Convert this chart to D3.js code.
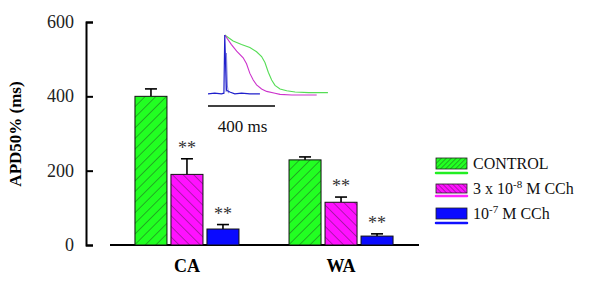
<!DOCTYPE html>
<html>
<head>
<meta charset="utf-8">
<script src="https://cdn.jsdelivr.net/npm/d3@7"></script>
<style>
  body { margin: 0; background: #fff; }
</style>
</head>
<body>
<div id="chart"></div>
<script>
// data
var groups = ["CA", "WA"];
var series = ["CONTROL", "3 x 10-8 M CCh", "10-7 M CCh"];
var means = [[400, 190, 43], [229, 115, 24]];
var errs = [[20, 42, 12], [8, 14, 6]];
var signif = [["", "**", "**"], ["", "**", "**"]];
var yTicks = [0, 200, 400, 600];

// inset action potential traces: [time ms, normalised voltage]
var traceControl = [[100, 1], [150, 0.9], [200, 0.84], [250, 0.79], [290, 0.72], [320, 0.64], [340, 0.54], [360, 0.38], [380, 0.25], [400, 0.16], [430, 0.1], [470, 0.07], [520, 0.05], [600, 0.04], [716, 0.04]];
var traceCCh3 = [[100, 1], [140, 0.84], [171, 0.73], [210, 0.62], [230, 0.52], [250, 0.36], [270, 0.25], [290, 0.17], [320, 0.1], [350, 0.06], [400, 0.03], [430, 0.01], [500, 0.0], [649, 0.0]];
var traceCCh7 = [[0, 0.02], [40, 0.03], [80, 0.02], [95, 0.03], [100, 1], [106, 0.4], [110, 0.08], [130, 0.05], [160, 0.02], [200, 0.03], [250, 0.02], [310, 0.02]];
var traceCCh7b = [[108, 0.05], [110, 0.7], [116, 0.15], [122, 0.03]];

var W = 600, H = 285;
var serif = "'Liberation Serif', 'Times New Roman', serif";
var svg = d3.select("#chart").append("svg")
    .attr("width", W).attr("height", H);

var fills = ["url(#hatchG)", "url(#hatchM)", "#0a0aff"];
var legFills = ["url(#hatchGs)", "url(#hatchMs)", "#0a0aff"];
var lineCols = ["#22ee22", "#ff22ff", "#1010ff"];

// hatch patterns
var defs = svg.append("defs");
function hatch(id, bg, line, gap, angle) {
  var p = defs.append("pattern")
      .attr("id", id)
      .attr("patternUnits", "userSpaceOnUse")
      .attr("width", gap).attr("height", gap)
      .attr("patternTransform", "rotate(" + angle + ")");
  p.append("rect").attr("width", gap).attr("height", gap).attr("fill", bg);
  p.append("line").attr("x1", 0).attr("y1", 0).attr("x2", 0).attr("y2", gap)
      .attr("stroke", line).attr("stroke-width", 0.9);
}
hatch("hatchG", "#22ff22", "#1f4a1f", 7.5, 45);
hatch("hatchM", "#ff11ff", "#4a1a4a", 7.5, -45);
hatch("hatchGs", "#22ff22", "#1f4a1f", 3.5, 45);
hatch("hatchMs", "#ff11ff", "#4a1a4a", 3.5, -45);

var y = d3.scaleLinear().domain([0, 600]).range([245, 22]);
var x0 = d3.scaleBand().domain(groups).range([110, 418])
    .paddingInner(0.325).paddingOuter(0.162);
var x1 = d3.scaleBand().domain(series).range([0, x0.bandwidth()])
    .paddingInner(0.111).paddingOuter(0);

// y axis
var yAxis = svg.append("g").attr("transform", "translate(86,0)")
    .call(d3.axisRight(y).tickValues(yTicks).tickSize(7).tickFormat(""));
yAxis.select(".domain").attr("stroke", "#000").attr("stroke-width", 2);
yAxis.selectAll(".tick line").attr("stroke", "#000").attr("stroke-width", 2);

svg.append("g").selectAll("text").data(yTicks).enter().append("text")
    .attr("x", 74).attr("y", function(d) { return y(d) + 6; })
    .attr("text-anchor", "end")
    .attr("font-family", serif)
    .attr("font-size", 18).attr("fill", "#222")
    .text(function(d) { return d; });

svg.append("text")
    .attr("transform", "translate(21," + 134 + ")rotate(-90)")
    .attr("text-anchor", "middle")
    .attr("font-family", serif)
    .attr("font-size", 17).attr("font-weight", "bold")
    .text("APD50% (ms)");

// baseline
svg.append("line")
    .attr("x1", 110).attr("x2", 419)
    .attr("y1", y(0)).attr("y2", y(0))
    .attr("stroke", "#000").attr("stroke-width", 2);

// bars
var g = svg.append("g").selectAll("g").data(groups).enter().append("g")
    .attr("transform", function(d) { return "translate(" + x0(d) + ",0)"; });

var cells = g.selectAll("g").data(function(d, gi) {
  return series.map(function(s, si) {
    return { s: s, si: si, v: means[gi][si], e: errs[gi][si], star: signif[gi][si] };
  });
}).enter().append("g");

cells.append("line")
    .attr("x1", function(d) { return x1(d.s) + x1.bandwidth() / 2; })
    .attr("x2", function(d) { return x1(d.s) + x1.bandwidth() / 2; })
    .attr("y1", function(d) { return y(d.v); })
    .attr("y2", function(d) { return y(d.v + d.e); })
    .attr("stroke", "#000").attr("stroke-width", 1.6);
cells.append("line")
    .attr("x1", function(d) { return x1(d.s) + x1.bandwidth() / 2 - 6; })
    .attr("x2", function(d) { return x1(d.s) + x1.bandwidth() / 2 + 6; })
    .attr("y1", function(d) { return y(d.v + d.e); })
    .attr("y2", function(d) { return y(d.v + d.e); })
    .attr("stroke", "#000").attr("stroke-width", 1.6);

cells.append("rect")
    .attr("x", function(d) { return x1(d.s); })
    .attr("width", x1.bandwidth())
    .attr("y", function(d) { return y(d.v); })
    .attr("height", function(d) { return y(0) - y(d.v); })
    .attr("fill", function(d) { return fills[d.si]; })
    .attr("stroke", "#111").attr("stroke-width", 1);

cells.append("text")
    .attr("x", function(d) { return x1(d.s) + x1.bandwidth() / 2; })
    .attr("y", function(d) { return y(d.v + d.e) - 5; })
    .attr("text-anchor", "middle")
    .attr("font-family", serif)
    .attr("font-size", 18).attr("fill", "#333")
    .text(function(d) { return d.star; });

// group labels
svg.append("g").selectAll("text").data(groups).enter().append("text")
    .attr("x", function(d) { return x0(d) + x0.bandwidth() / 2; })
    .attr("y", 272)
    .attr("text-anchor", "middle")
    .attr("font-family", serif)
    .attr("font-size", 18).attr("font-weight", "bold")
    .text(function(d) { return d; });

// inset traces
var tx = d3.scaleLinear().domain([0, 400]).range([208, 275]);
var ty = d3.scaleLinear().domain([0, 1]).range([95, 35]);
var line = d3.line()
    .x(function(d) { return tx(d[0]); })
    .y(function(d) { return ty(d[1]); });

var inset = svg.append("g").attr("fill", "none");
inset.append("path").datum(traceControl).attr("d", line)
    .attr("stroke", "#55dd55").attr("stroke-width", 1.1);
inset.append("path").datum(traceCCh3).attr("d", line)
    .attr("stroke", "#cc33cc").attr("stroke-width", 1.1);
inset.append("path").datum(traceCCh7b).attr("d", line)
    .attr("stroke", "#8888dd").attr("stroke-width", 1);
inset.append("path").datum(traceCCh7).attr("d", line)
    .attr("stroke", "#2020cc").attr("stroke-width", 1.2);

// scale bar
svg.append("line")
    .attr("x1", tx(0)).attr("x2", tx(400))
    .attr("y1", 106).attr("y2", 106)
    .attr("stroke", "#000").attr("stroke-width", 1.6);
svg.append("text")
    .attr("x", (tx(0) + tx(400)) / 2 + 1).attr("y", 132)
    .attr("text-anchor", "middle")
    .attr("font-family", serif)
    .attr("font-size", 17).attr("fill", "#111")
    .text("400 ms");

// legend
var leg = svg.append("g").selectAll("g").data(series).enter().append("g")
    .attr("transform", function(d, i) { return "translate(436," + (158 + i * 25) + ")"; });
leg.append("rect")
    .attr("width", 31).attr("height", function(d, i) { return i === 1 ? 9 : 11; })
    .attr("y", function(d, i) { return i === 1 ? 1 : 0; })
    .attr("fill", function(d, i) { return legFills[i]; })
    .attr("stroke", "#222").attr("stroke-width", 0.8);
leg.append("line")
    .attr("x1", 0).attr("x2", 31)
    .attr("y1", function(d, i) { return i === 1 ? 13 : 15; })
    .attr("y2", function(d, i) { return i === 1 ? 13 : 15; })
    .attr("stroke", function(d, i) { return lineCols[i]; })
    .attr("stroke-width", 2.5).attr("stroke-linecap", "round");

var legText = leg.append("text")
    .attr("x", 37).attr("y", 11)
    .attr("font-family", serif)
    .attr("font-size", 16).attr("fill", "#111");
legText.each(function(d) {
  var t = d3.select(this);
  var m = d.match(/^(.*10)(-\d)(.*)$/);
  if (!m) { t.text(d); return; }
  t.append("tspan").text(m[1]);
  t.append("tspan").attr("dy", -6).attr("font-size", 11).text(m[2]);
  t.append("tspan").attr("dy", 6).text(m[3]);
});
</script>
</body>
</html>
